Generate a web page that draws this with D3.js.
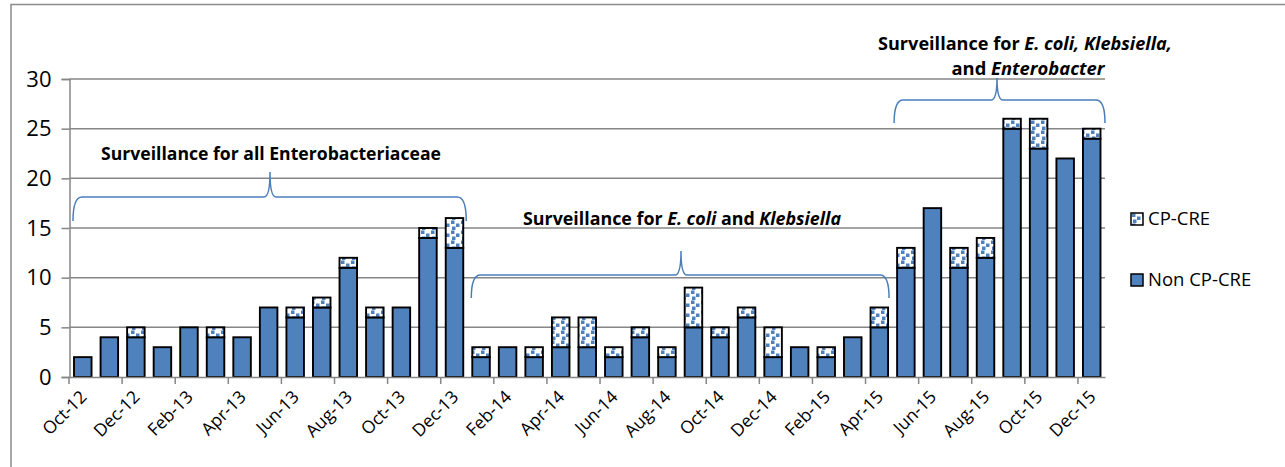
<!DOCTYPE html>
<html>
<head>
<meta charset="utf-8">
<script src="https://cdn.jsdelivr.net/npm/d3@7"></script>
<style>
  html, body { margin: 0; padding: 0; background: #fff; }
  svg { display: block; font-family: "Open Sans", "Noto Sans", sans-serif; }
</style>
</head>
<body>
<svg id="chart" width="1285" height="467"></svg>
<script>
const months = ["Oct-12","Nov-12","Dec-12","Jan-13","Feb-13","Mar-13","Apr-13","May-13","Jun-13","Jul-13","Aug-13","Sep-13","Oct-13","Nov-13","Dec-13",
  "Jan-14","Feb-14","Mar-14","Apr-14","May-14","Jun-14","Jul-14","Aug-14","Sep-14","Oct-14","Nov-14","Dec-14",
  "Jan-15","Feb-15","Mar-15","Apr-15","May-15","Jun-15","Jul-15","Aug-15","Sep-15","Oct-15","Nov-15","Dec-15"];
const nonCPCRE = [2,4,4,3,5,4,4,7,6,7,11,6,7,14,13, 2,3,2,3,3,2,4,2,5,4,6,2, 3,2,4,5,11,17,11,12,25,23,22,24];
const cpCRE    = [0,0,1,0,0,1,0,0,1,1,1,1,0,1,3, 1,0,1,3,3,1,1,1,4,1,1,3, 0,1,0,2,2,0,2,2,1,3,0,1];
const yTicks = [0,5,10,15,20,25,30];
const seriesNames = ["Non CP-CRE","CP-CRE"];

const svg = d3.select("#chart");
const blue = "#4f81bd";

// pattern for CP-CRE
const defs = svg.append("defs");
const pat = defs.append("pattern").attr("id","confetti").attr("patternUnits","userSpaceOnUse")
  .attr("width",10).attr("height",10);
pat.append("rect").attr("width",10).attr("height",10).attr("fill","#fff");
pat.append("rect").attr("x",1).attr("y",0.5).attr("width",3.5).attr("height",3.5).attr("fill",blue);
pat.append("rect").attr("x",6).attr("y",3.5).attr("width",3.5).attr("height",3.5).attr("fill",blue);
pat.append("rect").attr("x",2).attr("y",6.5).attr("width",3.5).attr("height",3.5).attr("fill",blue);

// chart border
svg.append("rect").attr("x",11).attr("y",4.5).attr("width",1300).attr("height",500)
  .attr("fill","none").attr("stroke","#8c8c8c").attr("stroke-width",1.5);

const x = d3.scaleBand().domain(months).range([69.5, 1105]).paddingInner(0.34).paddingOuter(0.17);
const y = d3.scaleLinear().domain([0,30]).range([377, 79]);

// gridlines + y axis
const yAxis = d3.axisLeft(y).tickValues(yTicks).tickSize(8).tickPadding(10);
const gy = svg.append("g").attr("transform","translate(69.5,0)").call(yAxis);
gy.select(".domain").attr("stroke","#868686").attr("stroke-width",1.5);
gy.selectAll(".tick line").attr("stroke","#868686").attr("stroke-width",1.5);
gy.selectAll(".tick text").attr("font-size",22).attr("fill","#000")
  .attr("font-family","'Open Sans', sans-serif");
svg.append("g").selectAll("line").data(yTicks.filter(d=>d>0)).join("line")
  .attr("x1",69.5).attr("x2",1105).attr("y1",d=>y(d)).attr("y2",d=>y(d))
  .attr("stroke","#868686").attr("stroke-width",1.5);

// stacked bars
const rows = months.map((m,i)=>({month:m, non:nonCPCRE[i], cp:cpCRE[i]}));
const stack = d3.stack().keys(["non","cp"])(rows);
const fills = {non: blue, cp: "url(#confetti)"};
svg.append("g").selectAll("g").data(stack).join("g")
  .attr("fill", d=>fills[d.key])
  .selectAll("rect").data(d=>d.filter(v=>v[1]-v[0]>0)).join("rect")
  .attr("x", d=>x(d.data.month)).attr("width", x.bandwidth())
  .attr("y", d=>y(d[1])).attr("height", d=>y(d[0])-y(d[1]))
  .attr("stroke","#000").attr("stroke-width",1.9);

// x axis
const xAxis = d3.axisBottom(x).tickSize(0).tickFormat("");
const gx = svg.append("g").attr("transform","translate(0,377)").call(xAxis);
gx.select(".domain").attr("stroke","#868686").attr("stroke-width",1.5);
gx.selectAll(".tick").remove();
// tick marks between every 2 categories
const step = x.step();
const tickIdx = d3.range(0, months.length+1, 2);
svg.append("g").selectAll("line").data(tickIdx).join("line")
  .attr("x1", i => i < months.length ? x(months[i]) - x.paddingInner()*step/2 - 0.5 : 1105)
  .attr("x2", i => i < months.length ? x(months[i]) - x.paddingInner()*step/2 - 0.5 : 1105)
  .attr("y1",377).attr("y2",384).attr("stroke","#868686").attr("stroke-width",1.5);
svg.append("g").selectAll("text").data(months.filter((m,i)=>i%2===0)).join("text")
  .attr("transform", m => `translate(${x(m)+x.bandwidth()/2+5},398) rotate(-45)`)
  .attr("text-anchor","end").attr("font-size",17.5).attr("fill","#000")
  .text(m=>m);

// braces
function brace(x0, x1, xm, yH, yEnd, yPeak) {
  const r = 6;
  return `M${x0},${yEnd} Q${x0},${yH} ${x0+r*1.5},${yH} L${xm-r},${yH} Q${xm},${yH} ${xm},${yPeak}` +
         ` Q${xm},${yH} ${xm+r},${yH} L${x1-r*1.5},${yH} Q${x1},${yH} ${x1},${yEnd}`;
}
const braces = [
  [x("Oct-12")-1, x("Dec-13")+x.bandwidth()+3, 270, 197, 221, 172],
  [x("Jan-14")-1, x("Apr-15")+x.bandwidth()+1, 681, 275, 298, 251],
  [x("May-15")-3, 1105, 997, 100, 123, 78]
];
svg.append("g").selectAll("path").data(braces).join("path")
  .attr("d", b=>brace(...b)).attr("fill","none").attr("stroke","#4a7ebb").attr("stroke-width",1.5);

// annotation text
function ann(xc, yb, parts, w) {
  const t = svg.append("text").attr("x",xc).attr("y",yb).attr("text-anchor","middle")
    .attr("font-weight","bold").attr("font-size",17).attr("fill","#000")
    .attr("textLength", w).attr("lengthAdjust","spacingAndGlyphs");
  parts.forEach(p => t.append("tspan").attr("font-style", p[1] ? "italic" : "normal").text(p[0]));
}
ann(271, 160, [["Surveillance for all Enterobacteriaceae",false]], 340);
ann(682, 225, [["Surveillance for ",false],["E. coli",true],[" and ",false],["Klebsiella",true]], 318);
ann(1025, 50, [["Surveillance for ",false],["E. coli, Klebsiella,",true]], 294);
ann(1028, 75, [["and ",false],["Enterobacter",true]], 153);

// legend
const legend = [{name:"CP-CRE", fill:"url(#confetti)", y:213},{name:"Non CP-CRE", fill:blue, y:274}];
const lg = svg.append("g").selectAll("g").data(legend).join("g")
  .attr("transform", d=>`translate(1131,${d.y})`);
lg.append("rect").attr("width",12).attr("height",12).attr("fill",d=>d.fill)
  .attr("stroke","#000").attr("stroke-width",1.5);
lg.append("text").attr("x",17).attr("y",12).attr("font-size",18.5).attr("fill","#000").text(d=>d.name);
</script>
</body>
</html>
